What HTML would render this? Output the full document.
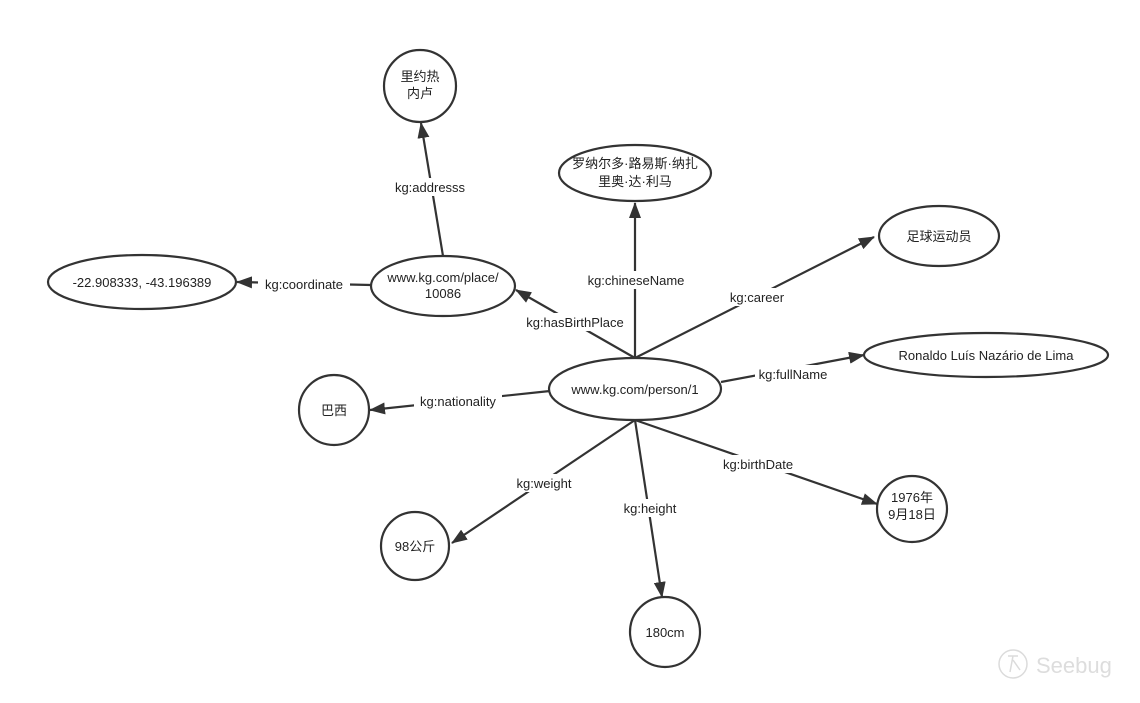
<!DOCTYPE html>
<html><head><meta charset="utf-8"><style>
html,body{margin:0;padding:0;background:#fff;}
svg text{font-family:"Liberation Sans","Noto Sans CJK SC",sans-serif;font-size:13px;fill:#222;}
</style></head><body>
<svg width="1140" height="698" viewBox="0 0 1140 698" xmlns="http://www.w3.org/2000/svg">
<defs><marker id="a" markerWidth="10" markerHeight="10" refX="9" refY="5" orient="auto" markerUnits="userSpaceOnUse" viewBox="0 0 10 10"><path d="M0,1 L10,5 L0,9 Z" fill="#333"/></marker>
<marker id="b" markerWidth="16" markerHeight="12" refX="15" refY="6" orient="auto" markerUnits="userSpaceOnUse" viewBox="0 0 16 12"><path d="M0,0 L16,6 L0,12 Z" fill="#333"/></marker></defs>
<g stroke="#333" stroke-width="2.2" fill="none">
<line x1="635" y1="358" x2="635" y2="203" marker-end="url(#b)"/>
<line x1="635" y1="358" x2="874" y2="237" marker-end="url(#b)"/>
<line x1="635" y1="358" x2="516" y2="290" marker-end="url(#b)"/>
<line x1="550" y1="391" x2="370" y2="410" marker-end="url(#b)"/>
<line x1="721" y1="382" x2="864" y2="355" marker-end="url(#b)"/>
<line x1="635" y1="420" x2="452" y2="543" marker-end="url(#b)"/>
<line x1="635" y1="420" x2="662" y2="597" marker-end="url(#b)"/>
<line x1="635" y1="420" x2="877" y2="504" marker-end="url(#b)"/>
<line x1="443" y1="256" x2="421" y2="123" marker-end="url(#b)"/>
<line x1="371" y1="285" x2="237" y2="282" marker-end="url(#b)"/>
</g>
<g fill="#fff">
<rect x="585" y="271" width="102" height="18"/>
<rect x="726" y="288" width="62" height="18"/>
<rect x="522" y="313" width="106" height="18"/>
<rect x="414" y="392" width="88" height="18"/>
<rect x="755" y="365" width="76" height="18"/>
<rect x="512" y="474" width="64" height="18"/>
<rect x="618" y="499" width="64" height="18"/>
<rect x="716" y="455" width="84" height="18"/>
<rect x="390" y="178" width="80" height="18"/>
<rect x="258" y="275" width="92" height="18"/>
</g>
<g stroke="#333" stroke-width="2.2" fill="#fff">
<circle cx="420" cy="86" r="36"/>
<ellipse cx="635" cy="173" rx="76" ry="28"/>
<ellipse cx="939" cy="236" rx="60" ry="30"/>
<ellipse cx="142" cy="282" rx="94" ry="27"/>
<ellipse cx="443" cy="286" rx="72" ry="30"/>
<ellipse cx="986" cy="355" rx="122" ry="22"/>
<ellipse cx="635" cy="389" rx="86" ry="31"/>
<circle cx="334" cy="410" r="35"/>
<ellipse cx="912" cy="509" rx="35" ry="33"/>
<circle cx="415" cy="546" r="34"/>
<circle cx="665" cy="632" r="35"/>
</g>
<g text-anchor="middle">
<text x="420" y="81">里约热</text><text x="420" y="98">内卢</text>
<text x="635" y="168">罗纳尔多·路易斯·纳扎</text><text x="635" y="186">里奥·达·利马</text>
<text x="939" y="241">足球运动员</text>
<text x="142" y="287">-22.908333, -43.196389</text>
<text x="443" y="282">www.kg.com/place/</text><text x="443" y="298">10086</text>
<text x="986" y="360">Ronaldo Luís Nazário de Lima</text>
<text x="635" y="394">www.kg.com/person/1</text>
<text x="334" y="415">巴西</text>
<text x="912" y="502">1976年</text><text x="912" y="519">9月18日</text>
<text x="415" y="551">98公斤</text>
<text x="665" y="637">180cm</text>
<text x="636" y="285">kg:chineseName</text>
<text x="757" y="302">kg:career</text>
<text x="575" y="327">kg:hasBirthPlace</text>
<text x="458" y="406">kg:nationality</text>
<text x="793" y="379">kg:fullName</text>
<text x="544" y="488">kg:weight</text>
<text x="650" y="513">kg:height</text>
<text x="758" y="469">kg:birthDate</text>
<text x="430" y="192">kg:addresss</text>
<text x="304" y="289">kg:coordinate</text>
</g>
<g opacity="0.35" stroke="#999" fill="none" stroke-width="1.5">
<circle cx="1013" cy="664" r="14"/>
<path d="M1008,656 L1018,656 M1013,656 L1010,672 M1013,660 L1020,670"/>
</g>
<text x="1036" y="673" style="font-size:22px;fill:#ddd;">Seebug</text>
</svg>
</body></html>
